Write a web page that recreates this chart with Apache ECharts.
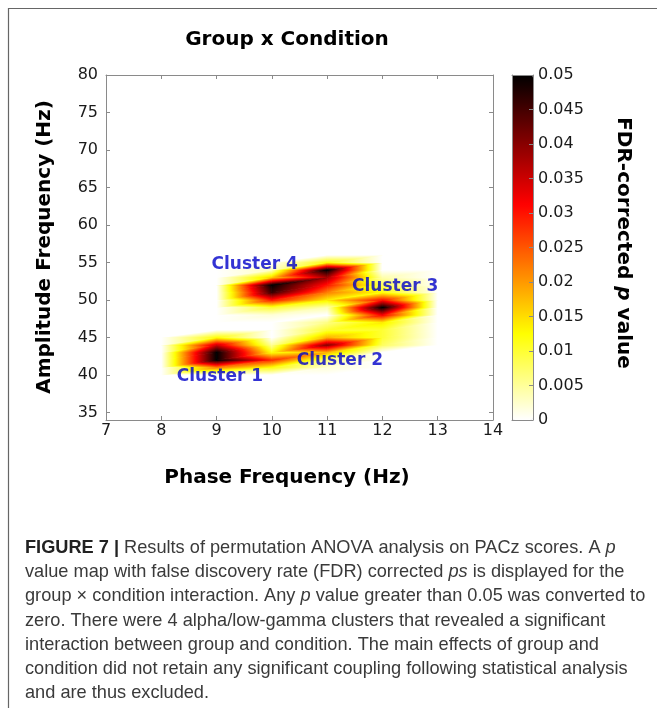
<!DOCTYPE html>
<html>
<head>
<meta charset="utf-8">
<script src="https://cdn.jsdelivr.net/npm/echarts@6/dist/echarts.min.js"></script>
<style>
  html, body { margin: 0; padding: 0; background: #fff; }
  #chart { width: 657px; height: 708px; }
</style>
</head>
<body>
<div id="chart"></div>
<script>
// grid of the p value map (Hz)
const phaseFreq = [7, 8, 9, 10, 11, 12, 13, 14];
const ampMin = 34;
const ampMax = 80;

// non-zero FDR corrected p values: [phase Hz, amplitude Hz, p]
const pValues = [
  // cluster 1
  [9, 45, 0.012], [9, 44, 0.035], [9, 43, 0.050], [9, 42, 0.050], [9, 41, 0.022],
  [10, 44, 0.005], [10, 43, 0.012], [10, 42, 0.028], [10, 41, 0.012],
  [11, 43, 0.018], [11, 42, 0.006], [11, 41, 0.002],
  // cluster 2
  [11, 44, 0.040], [11, 45, 0.018], [11, 46, 0.010], [11, 47, 0.006],
  [12, 44, 0.008], [12, 45, 0.010], [12, 46, 0.010], [12, 47, 0.014],
  // cluster 3
  [12, 48, 0.032], [12, 49, 0.050], [12, 50, 0.030], [12, 51, 0.012], [12, 52, 0.008],
  [11, 49, 0.004],
  // cluster 4
  [10, 48, 0.002], [10, 49, 0.010], [10, 50, 0.030], [10, 51, 0.046], [10, 52, 0.050], [10, 53, 0.016], [10, 54, 0.003],
  [11, 50, 0.014], [11, 51, 0.022], [11, 52, 0.030], [11, 53, 0.038], [11, 54, 0.050], [11, 55, 0.012],
  [12, 53, 0.004]
];

const clusterNames = ['Cluster 1', 'Cluster 2', 'Cluster 3', 'Cluster 4'];
const clusterLabelPos = [[9.06, 39.8], [11.23, 41.9], [12.23, 51.8], [9.69, 54.7]];

const xTicks = [7, 8, 9, 10, 11, 12, 13, 14];
const yTicks = [35, 40, 45, 50, 55, 60, 65, 70, 75, 80];
const cbTicks = [0, 0.005, 0.01, 0.015, 0.02, 0.025, 0.03, 0.035, 0.04, 0.045, 0.05];
const pMax = 0.05;

// reversed "hot" colormap
const hotColors = ['#ffffff', '#ffff80', '#ffff00', '#ffaa00', '#ff5500', '#ff0000', '#aa0000', '#550000', '#000000'];

const captionLines = [
  '{b|FIGURE 7 |} Results of permutation ANOVA analysis on PACz scores. A {i|p}',
  'value map with false discovery rate (FDR) corrected {i|ps} is displayed for the',
  'group \u00d7 condition interaction. Any {i|p} value greater than 0.05 was converted to',
  'zero. There were 4 alpha/low-gamma clusters that revealed a significant',
  'interaction between group and condition. The main effects of group and',
  'condition did not retain any significant coupling following statistical analysis',
  'and are thus excluded.'
];

const lookup = {};
pValues.forEach(function (d) { lookup[d[0] + '_' + d[1]] = d[2]; });
function pAt(x, y) { return lookup[x + '_' + y] || 0; }

// cells that touch a non-zero value
const cells = [];
for (let i = 0; i < phaseFreq.length - 1; i++) {
  for (let y = ampMin; y < ampMax; y++) {
    const x = phaseFreq[i], x1 = phaseFreq[i + 1];
    if (pAt(x, y) || pAt(x1, y) || pAt(x, y + 1) || pAt(x1, y + 1)) {
      cells.push([x, y, x1, y + 1]);
    }
  }
}

function cmap(v) {
  return echarts.color.lerp(Math.max(0, Math.min(1, v / pMax)), hotColors);
}

// triangle with linearly interpolated value -> linear gradient along value gradient
function triangle(pts, vals) {
  const vmin = Math.min.apply(null, vals), vmax = Math.max.apply(null, vals);
  let fill;
  const d1x = pts[1][0] - pts[0][0], d1y = pts[1][1] - pts[0][1];
  const d2x = pts[2][0] - pts[0][0], d2y = pts[2][1] - pts[0][1];
  const dv1 = vals[1] - vals[0], dv2 = vals[2] - vals[0];
  const det = d1x * d2y - d1y * d2x;
  const a = (dv1 * d2y - dv2 * d1y) / det;
  const b = (d1x * dv2 - d2x * dv1) / det;
  const g2 = a * a + b * b;
  if (vmax - vmin < 1e-9 || g2 < 1e-14) {
    fill = cmap(vmin);
  } else {
    const s = (vmin - vals[0]) / g2, e = (vmax - vals[0]) / g2;
    const stops = [];
    const n = 16;
    for (let k = 0; k <= n; k++) {
      stops.push({ offset: k / n, color: cmap(vmin + (vmax - vmin) * k / n) });
    }
    fill = new echarts.graphic.LinearGradient(
      pts[0][0] + a * s, pts[0][1] + b * s,
      pts[0][0] + a * e, pts[0][1] + b * e,
      stops, true
    );
  }
  return {
    type: 'polygon',
    shape: { points: pts },
    style: { fill: fill, stroke: fill, lineWidth: 0.8 }
  };
}

function renderCell(params, api) {
  const x0 = api.value(0), y0 = api.value(1), x1 = api.value(2), y1 = api.value(3);
  const A = api.coord([x0, y0]), B = api.coord([x1, y0]);
  const C = api.coord([x1, y1]), D = api.coord([x0, y1]);
  const vA = pAt(x0, y0), vB = pAt(x1, y0), vC = pAt(x1, y1), vD = pAt(x0, y1);
  const children = [];
  if (vA || vB || vC) children.push(triangle([A, B, C], [vA, vB, vC]));
  if (vA || vC || vD) children.push(triangle([A, C, D], [vA, vC, vD]));
  return { type: 'group', children: children };
}

const lineColor = '#8a8a8a';
const textColor = '#1a1a1a';
const font = 'DejaVu Sans';

function boxAxis(extra) {
  return Object.assign({
    type: 'value',
    axisLine: { show: true, onZero: false, lineStyle: { color: lineColor, width: 1 } },
    axisTick: { show: false },
    axisLabel: { show: false },
    splitLine: { show: false },
    z: 10
  }, extra);
}

const tickStyle = { show: true, inside: true, length: 4, lineStyle: { color: lineColor } };

const myChart = echarts.init(document.getElementById('chart'));

const graphics = [
  { type: 'line', shape: { x1: 8, y1: 8.5, x2: 657, y2: 8.5 }, style: { stroke: '#666', lineWidth: 1.2 } },
  { type: 'line', shape: { x1: 8.5, y1: 8, x2: 8.5, y2: 708 }, style: { stroke: '#666', lineWidth: 1.2 } },
  {
    type: 'text', x: 287, y: 40,
    style: { text: 'Group x Condition', font: 'bold 20px "DejaVu Sans"', fill: '#000', align: 'center', verticalAlign: 'middle' }
  },
  {
    type: 'text', x: 287, y: 478,
    style: { text: 'Phase Frequency (Hz)', font: 'bold 20px "DejaVu Sans"', fill: '#000', align: 'center', verticalAlign: 'middle' }
  },
  {
    type: 'text', x: 45, y: 247, rotation: Math.PI / 2,
    style: { text: 'Amplitude Frequency (Hz)', font: 'bold 20px "DejaVu Sans"', fill: '#000', align: 'center', verticalAlign: 'middle' }
  },
  {
    type: 'text', x: 623, y: 243, rotation: -Math.PI / 2,
    style: {
      text: '{n|FDR-corrected }{i|p}{n| value}',
      align: 'center', verticalAlign: 'middle',
      rich: {
        n: { font: 'bold 20px "DejaVu Sans"', fill: '#000' },
        i: { font: 'italic bold 20px "DejaVu Sans"', fill: '#000' }
      }
    }
  }
];

captionLines.forEach(function (line, i) {
  graphics.push({
    type: 'text', x: 25, y: 548 + i * 24.2,
    style: {
      text: line, align: 'left', verticalAlign: 'middle',
      font: '18.2px "Liberation Sans"', fill: '#3a3a3a',
      rich: {
        b: { font: 'bold 18.2px "Liberation Sans"', fill: '#222' },
        i: { font: 'italic 18.2px "Liberation Sans"', fill: '#3a3a3a' }
      }
    }
  });
});

myChart.setOption({
  animation: false,
  backgroundColor: '#fff',
  grid: [
    { left: 106, top: 75, width: 387, height: 345 },
    { left: 512, top: 75, width: 21, height: 345 }
  ],
  xAxis: [
    boxAxis({
      gridIndex: 0, min: 7, max: 14, position: 'bottom',
      axisTick: Object.assign({ customValues: xTicks }, tickStyle),
      axisLabel: { show: true, customValues: xTicks, color: textColor, fontSize: 16, fontFamily: font, margin: 3 }
    }),
    boxAxis({ gridIndex: 0, min: 7, max: 14, position: 'top', axisTick: Object.assign({ customValues: xTicks }, tickStyle) }),
    boxAxis({ gridIndex: 1, min: 0, max: 1, position: 'bottom' }),
    boxAxis({ gridIndex: 1, min: 0, max: 1, position: 'top' })
  ],
  yAxis: [
    boxAxis({
      gridIndex: 0, min: ampMin, max: ampMax, position: 'left',
      axisTick: Object.assign({ customValues: yTicks }, tickStyle),
      axisLabel: { show: true, customValues: yTicks, color: textColor, fontSize: 16, fontFamily: font, margin: 8 }
    }),
    boxAxis({ gridIndex: 0, min: ampMin, max: ampMax, position: 'right', axisTick: Object.assign({ customValues: yTicks }, tickStyle) }),
    boxAxis({
      gridIndex: 1, min: 0, max: pMax, position: 'right',
      axisTick: Object.assign({ customValues: cbTicks }, tickStyle),
      axisLabel: {
        show: true, customValues: cbTicks, color: textColor, fontSize: 16, fontFamily: font, margin: 5,
        formatter: function (v) { return String(parseFloat(v.toFixed(4))); }
      }
    }),
    boxAxis({ gridIndex: 1, min: 0, max: pMax, position: 'left' })
  ],
  visualMap: {
    type: 'continuous',
    seriesIndex: [],
    min: 0,
    max: pMax,
    calculable: false,
    text: null,
    left: 512,
    top: 75,
    padding: 0,
    itemWidth: 21,
    itemHeight: 345,
    inRange: { color: hotColors }
  },
  series: [
    {
      type: 'custom',
      xAxisIndex: 0,
      yAxisIndex: 0,
      renderItem: renderCell,
      data: cells,
      silent: true
    },
    {
      type: 'scatter',
      xAxisIndex: 0,
      yAxisIndex: 0,
      symbolSize: 1,
      itemStyle: { color: 'transparent' },
      label: {
        show: true, position: 'inside', formatter: '{b}',
        color: '#0000c8', fontWeight: 'bold', fontSize: 17, fontFamily: font
      },
      data: clusterNames.map(function (name, i) { return { name: name, value: clusterLabelPos[i] }; }),
      z: 5
    }
  ],
  graphic: graphics
});

window.addEventListener('resize', () => {
  myChart.resize();
});
</script>
</body>
</html>
